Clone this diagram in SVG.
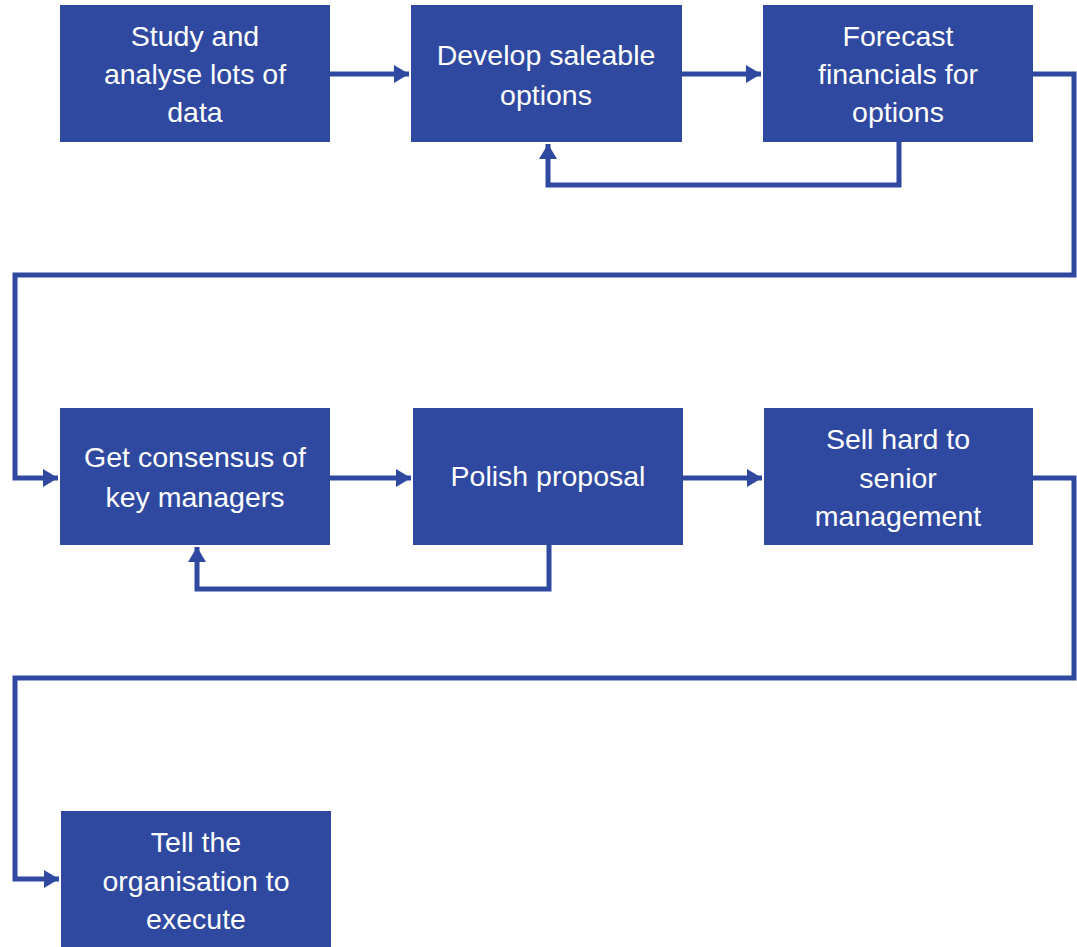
<svg xmlns="http://www.w3.org/2000/svg" width="1077" height="947" viewBox="0 0 1077 947">
  <style>
    .box { fill: #3049A0; }
    .lbl { fill: #ffffff; font-family: "Liberation Sans", Arial, sans-serif; font-size: 28.5px; text-anchor: middle; }
    .wire { fill: none; stroke: #3049A0; stroke-width: 5; stroke-linejoin: miter; }
  </style>
  <defs>
    <marker id="head" viewBox="0 0 15 18" refX="15" refY="9" markerWidth="15" markerHeight="18" markerUnits="userSpaceOnUse" orient="auto">
      <path d="M0,0 L15,9 L0,18 Z" fill="#3049A0"/>
    </marker>
  </defs>
  <rect width="1077" height="947" fill="#ffffff"/>

  <g id="connectors">
    <path class="wire" d="M330,74 H409" marker-end="url(#head)"/>
    <path class="wire" d="M682,74 H761" marker-end="url(#head)"/>
    <path class="wire" d="M899,142 V185 H548 V144" marker-end="url(#head)"/>
    <path class="wire" d="M1033,74 H1074 V275 H15 V478 H58" marker-end="url(#head)"/>
    <path class="wire" d="M330,478 H411" marker-end="url(#head)"/>
    <path class="wire" d="M683,478 H762" marker-end="url(#head)"/>
    <path class="wire" d="M549,545 V589 H197 V547" marker-end="url(#head)"/>
    <path class="wire" d="M1033,478 H1074 V678 H15 V879 H59" marker-end="url(#head)"/>
  </g>

  <g id="n1">
    <rect class="box" x="60" y="5" width="270" height="137"/>
    <text class="lbl" x="195" y="46">Study and</text>
    <text class="lbl" x="195" y="84">analyse lots of</text>
    <text class="lbl" x="195" y="122">data</text>
  </g>
  <g id="n2">
    <rect class="box" x="411" y="5" width="271" height="137"/>
    <text class="lbl" x="546" y="65">Develop saleable</text>
    <text class="lbl" x="546" y="105">options</text>
  </g>
  <g id="n3">
    <rect class="box" x="763" y="5" width="270" height="137"/>
    <text class="lbl" x="898" y="46">Forecast</text>
    <text class="lbl" x="898" y="84">financials for</text>
    <text class="lbl" x="898" y="122">options</text>
  </g>
  <g id="n4">
    <rect class="box" x="60" y="408" width="270" height="137"/>
    <text class="lbl" x="195" y="467">Get consensus of</text>
    <text class="lbl" x="195" y="507">key managers</text>
  </g>
  <g id="n5">
    <rect class="box" x="413" y="408" width="270" height="137"/>
    <text class="lbl" x="548" y="486">Polish proposal</text>
  </g>
  <g id="n6">
    <rect class="box" x="764" y="408" width="269" height="137"/>
    <text class="lbl" x="898" y="449">Sell hard to</text>
    <text class="lbl" x="898" y="488">senior</text>
    <text class="lbl" x="898" y="526">management</text>
  </g>
  <g id="n7">
    <rect class="box" x="61" y="811" width="270" height="140"/>
    <text class="lbl" x="196" y="852">Tell the</text>
    <text class="lbl" x="196" y="891">organisation to</text>
    <text class="lbl" x="196" y="929">execute</text>
  </g>
</svg>
